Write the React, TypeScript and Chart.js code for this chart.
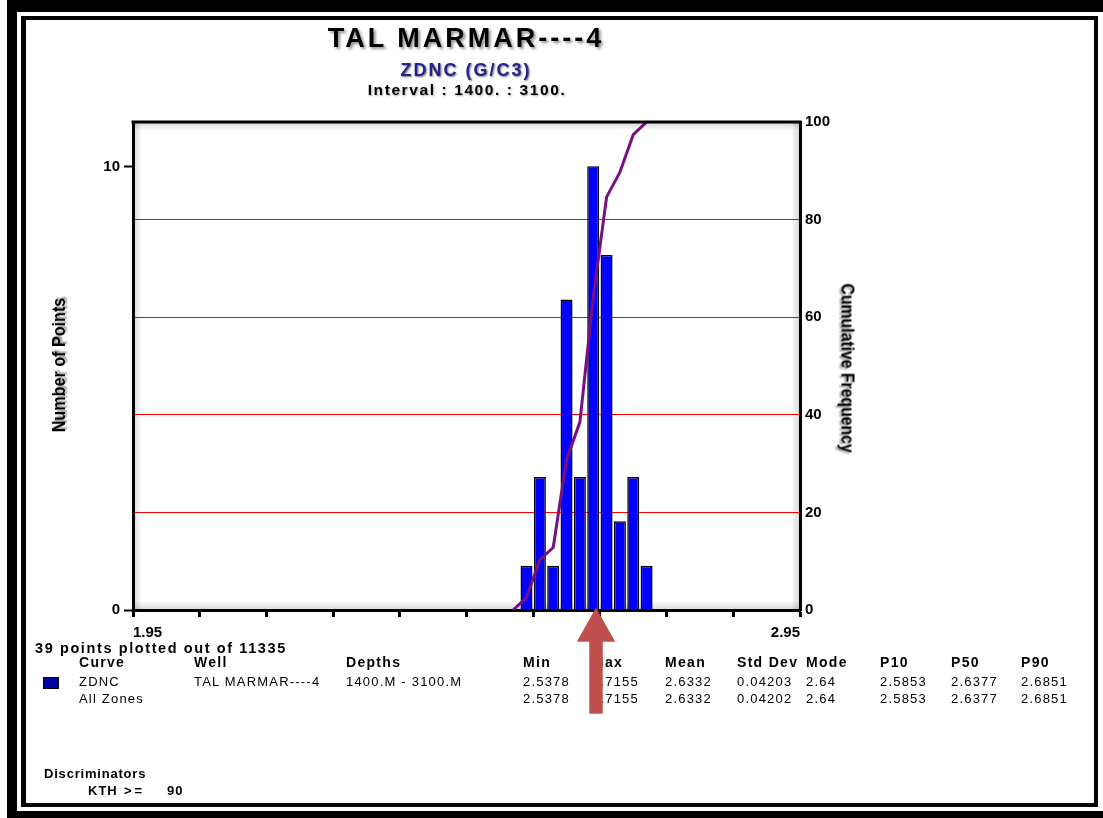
import { useEffect, useRef } from 'react';
import { Chart, registerables } from 'chart.js';

Chart.register(...registerables);

// ZDNC histogram: 0.02 g/cc bins, centre value and number of points in each bin
const binCenters = [2.54, 2.56, 2.58, 2.6, 2.62, 2.64, 2.66, 2.68, 2.7, 2.72];
const binCounts = [1, 3, 1, 7, 3, 10, 8, 2, 3, 1];

// cumulative frequency curve (%)
const cumX = [2.52, 2.54, 2.56, 2.58, 2.6, 2.62, 2.64, 2.66, 2.68, 2.7, 2.72];
const cumPct = [0, 2.6, 10.3, 12.8, 30.8, 38.5, 64.1, 84.6, 89.7, 97.4, 100];

// axis ticks
const xTicks = [1.95, 2.05, 2.15, 2.25, 2.35, 2.45, 2.55, 2.65, 2.75, 2.85, 2.95];
const countTicks = [0, 10];
const freqTicks = [0, 20, 40, 60, 80, 100];

// statistics table
const tableHeaders = ['Curve', 'Well', 'Depths', 'Min', 'Max', 'Mean', 'Std Dev', 'Mode', 'P10', 'P50', 'P90'];
const zdncRow = ['ZDNC', 'TAL MARMAR----4', '1400.M - 3100.M', '2.5378', '2.7155', '2.6332', '0.04203', '2.64', '2.5853', '2.6377', '2.6851'];
const allZonesRow = ['All Zones', '', '', '2.5378', '2.7155', '2.6332', '0.04202', '2.64', '2.5853', '2.6377', '2.6851'];

const W = 1103;
const H = 818;
const FONT = "'Liberation Sans', Arial, Helvetica, sans-serif";

const colX = [79, 194, 346, 523, 592, 665, 737, 806, 880, 951, 1021];

type LabelProps = {
  x: number;
  y: number;
  text: string;
  size?: number;
  weight?: number;
  anchor?: 'start' | 'middle';
  color?: string;
  spacing?: number;
  shadow?: string;
  rotate?: number;
  squeeze?: number;
};

function Label({ x, y, text, size = 13, weight = 400, anchor = 'start', color = '#000', spacing = 0, shadow, rotate, squeeze }: LabelProps) {
  const tx = anchor === 'middle' ? '-50%' : '0';
  const extra = `${rotate ? ` rotate(${rotate}deg)` : ''}${squeeze ? ` scaleX(${squeeze})` : ''}`;
  return (
    <div
      style={{
        position: 'absolute',
        left: x,
        top: y,
        transform: `translate(${tx}, -50%)${extra}`,
        fontFamily: FONT,
        fontSize: size,
        fontWeight: weight,
        color,
        letterSpacing: spacing,
        lineHeight: 1,
        whiteSpace: 'pre',
        textShadow: shadow,
      }}
    >
      {text}
    </div>
  );
}

// top edge of the plot frame and a soft inner shadow along the frame
const plotFrame = {
  id: 'plotFrame',
  beforeDatasetsDraw(chart: any) {
    const { ctx, chartArea: a } = chart;
    const d = 9;
    ctx.save();
    const edges: [number, number, number, number, number, number, number, number][] = [
      [a.left, a.top, a.left, a.top + d, a.left, a.top, a.right - a.left, d],
      [a.left, a.bottom, a.left, a.bottom - d, a.left, a.bottom - d, a.right - a.left, d],
      [a.left, a.top, a.left + d, a.top, a.left, a.top, d, a.bottom - a.top],
      [a.right, a.top, a.right - d, a.top, a.right - d, a.top, d, a.bottom - a.top],
    ];
    for (const [x0, y0, x1, y1, rx, ry, rw, rh] of edges) {
      const g = ctx.createLinearGradient(x0, y0, x1, y1);
      g.addColorStop(0, 'rgba(0,0,0,0.16)');
      g.addColorStop(1, 'rgba(0,0,0,0)');
      ctx.fillStyle = g;
      ctx.fillRect(rx, ry, rw, rh);
    }
    ctx.restore();
  },
  afterDatasetsDraw(chart: any) {
    const { ctx, chartArea: a } = chart;
    ctx.save();
    ctx.strokeStyle = '#000';
    ctx.lineWidth = 3;
    ctx.beginPath();
    ctx.moveTo(a.left - 1.5, a.top);
    ctx.lineTo(a.right + 1.5, a.top);
    ctx.stroke();
    ctx.restore();
  },
};

export default function App() {
  const canvasRef = useRef<HTMLCanvasElement | null>(null);

  useEffect(() => {
    document.body.style.margin = '0';
    const canvas = canvasRef.current;
    if (!canvas) return;
    const tickFont = { family: FONT, size: 15, weight: 'bold' as const };
    const chart = new Chart(canvas, {
      data: {
        datasets: [
          {
            type: 'line',
            data: cumX.map((x, i) => ({ x, y: cumPct[i] })),
            yAxisID: 'y2',
            borderColor: '#7a0f84',
            borderWidth: 3,
            pointRadius: 0,
            tension: 0,
            order: 0,
          },
          {
            type: 'bar',
            data: binCenters.map((x, i) => ({ x, y: binCounts[i] })),
            yAxisID: 'y',
            backgroundColor: '#0000ff',
            borderColor: '#000000',
            borderWidth: 1.5,
            barPercentage: 0.9,
            categoryPercentage: 1,
            order: 1,
          },
        ] as any,
      },
      options: {
        responsive: false,
        animation: false,
        devicePixelRatio: 1,
        layout: { padding: { top: 122, left: 0, right: 0, bottom: 0 } },
        plugins: {
          legend: { display: false },
          tooltip: { enabled: false },
          title: { display: false },
        },
        scales: {
          x: {
            type: 'linear',
            position: 'bottom',
            min: 1.95,
            max: 2.95,
            offset: false,
            afterBuildTicks: (s: any) => {
              s.ticks = xTicks.map((v) => ({ value: v }));
            },
            afterFit: (s: any) => {
              s.height = 208;
            },
            ticks: {
              autoSkip: false,
              maxRotation: 0,
              align: 'inner',
              padding: 7,
              color: '#000',
              font: tickFont,
              callback: (v: any, i: number, arr: any[]) => (i === 0 || i === arr.length - 1 ? Number(v).toFixed(2) : ''),
            },
            grid: { offset: false, drawOnChartArea: false, tickLength: 7, tickWidth: 3, tickColor: '#000' },
            border: { color: '#000', width: 3 },
          },
          y: {
            type: 'linear',
            position: 'left',
            min: 0,
            max: 11,
            afterBuildTicks: (s: any) => {
              s.ticks = countTicks.map((v) => ({ value: v }));
            },
            afterFit: (s: any) => {
              s.width = 133;
            },
            ticks: { padding: 4, color: '#000', font: tickFont },
            grid: { drawOnChartArea: false, tickLength: 9, tickWidth: 2, tickColor: '#000' },
            border: { color: '#000', width: 3 },
          },
          y2: {
            type: 'linear',
            position: 'right',
            min: 0,
            max: 100,
            afterBuildTicks: (s: any) => {
              s.ticks = freqTicks.map((v) => ({ value: v }));
            },
            afterFit: (s: any) => {
              s.width = W - 800;
            },
            ticks: { padding: 5, color: '#000', font: tickFont },
            grid: {
              drawOnChartArea: true,
              drawTicks: false,
              lineWidth: 1,
              color: (c: any) => (c.tick && c.tick.value > 0 && c.tick.value < 100 ? '#ff0000' : 'rgba(0,0,0,0)'),
            },
            border: { color: '#000', width: 3 },
          },
        },
      } as any,
      plugins: [plotFrame],
    });
    return () => chart.destroy();
  }, []);

  return (
    <div style={{ position: 'fixed', left: 0, top: 0, width: W, height: H, background: '#fff', overflow: 'hidden', fontFamily: FONT }}>
      {/* page frame */}
      <div style={{ position: 'absolute', left: 7, top: 0, width: W - 7, height: 12, background: '#000' }} />
      <div style={{ position: 'absolute', left: 7, top: 0, width: 10, height: H, background: '#000' }} />
      <div style={{ position: 'absolute', left: 7, top: 811, width: W - 7, height: 7, background: '#000' }} />
      <div
        style={{
          position: 'absolute',
          left: 21,
          top: 16,
          width: 1077,
          height: 791,
          border: '4px solid #000',
          borderLeftWidth: 5,
          boxSizing: 'border-box',
        }}
      />

      <canvas ref={canvasRef} width={W} height={H} style={{ position: 'absolute', left: 0, top: 0, width: W, height: H }} />

      {/* titles */}
      <Label x={466} y={38} text="TAL MARMAR----4" size={27} weight={700} anchor="middle" spacing={3} shadow="2px 2px 3px rgba(0,0,0,0.45)" />
      <Label x={466} y={70} text="ZDNC (G/C3)" size={18} weight={700} anchor="middle" spacing={2} color="#24248c" shadow="1px 1px 2px rgba(0,0,0,0.55)" />
      <Label x={467} y={90} text="Interval : 1400. : 3100." size={15.5} weight={700} anchor="middle" spacing={1.6} shadow="1px 1px 2px rgba(0,0,0,0.35)" />

      {/* axis titles */}
      <Label x={58} y={365} text="Number of Points" size={19} weight={700} anchor="middle" rotate={-90} squeeze={0.85} shadow="2px 2px 2px rgba(0,0,0,0.4)" />
      <Label x={848} y={368} text="Cumulative Frequency" size={19} weight={700} anchor="middle" rotate={90} squeeze={0.83} shadow="2px 2px 2px rgba(0,0,0,0.4)" />

      {/* statistics */}
      <Label x={35} y={648} text="39 points plotted out of 11335" size={14.5} weight={700} spacing={1.6} />
      {tableHeaders.map((h, i) => (
        <Label key={'h' + i} x={colX[i]} y={662} text={h} size={14} weight={700} spacing={1.3} />
      ))}
      <div style={{ position: 'absolute', left: 43, top: 677, width: 16, height: 12, background: '#0000a0', border: '1px solid #000', boxSizing: 'border-box' }} />
      {zdncRow.map((v, i) => (
        <Label key={'a' + i} x={colX[i]} y={681} text={v} size={13} spacing={1.2} />
      ))}
      {allZonesRow.map((v, i) => (
        <Label key={'b' + i} x={colX[i]} y={698} text={v} size={13} spacing={1.2} />
      ))}

      <Label x={44} y={773} text="Discriminators" size={13} weight={700} spacing={0.8} />
      <Label x={88} y={790} text="KTH" size={13} weight={700} spacing={1} />
      <Label x={124} y={790} text=">=" size={13} weight={700} spacing={3} />
      <Label x={167} y={790} text="90" size={13} weight={700} spacing={1} />

      {/* pointer arrow */}
      <svg width={W} height={H} style={{ position: 'absolute', left: 0, top: 0, pointerEvents: 'none' }}>
        <polygon points="596,609 614,641 602,641 602,713 590,713 590,641 578,641" fill="#c0504d" stroke="#c0504d" strokeWidth={1.5} strokeLinejoin="round" />
      </svg>
    </div>
  );
}
